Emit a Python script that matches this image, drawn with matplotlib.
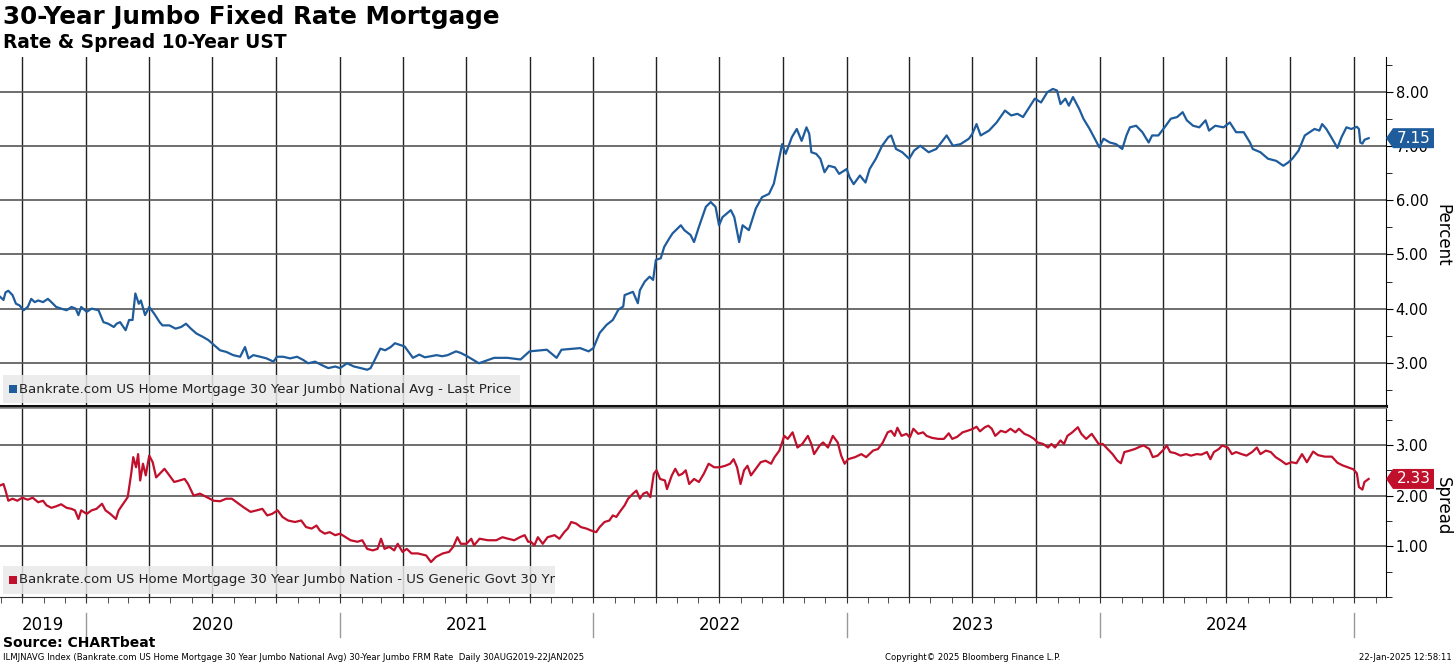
import pandas as pd
import matplotlib
matplotlib.use('Agg')
import matplotlib.pyplot as plt
import matplotlib.dates as mdates
from matplotlib.patches import Rectangle, Polygon
from matplotlib.transforms import blended_transform_factory, IdentityTransform
from matplotlib.lines import Line2D

# 30y jumbo rate (percent)
rate_dates = [
    '2019-08-30', '2019-09-04', '2019-09-07', '2019-09-11', '2019-09-17', '2019-09-22', '2019-09-27',
    '2019-10-03', '2019-10-09', '2019-10-14', '2019-10-19', '2019-10-24', '2019-10-31', '2019-11-07',
    '2019-11-12', '2019-11-19', '2019-11-26', '2019-12-04', '2019-12-11', '2019-12-17', '2019-12-21',
    '2019-12-25', '2020-01-02', '2020-01-09', '2020-01-19', '2020-01-26', '2020-02-02', '2020-02-10',
    '2020-02-14', '2020-02-19', '2020-02-27', '2020-03-03', '2020-03-08', '2020-03-12', '2020-03-17',
    '2020-03-20', '2020-03-26', '2020-04-01', '2020-04-08', '2020-04-16', '2020-04-20', '2020-04-30',
    '2020-05-09', '2020-05-17', '2020-05-24', '2020-05-31', '2020-06-08', '2020-06-17', '2020-06-25',
    '2020-07-03', '2020-07-12', '2020-07-21', '2020-07-31', '2020-08-10', '2020-08-17', '2020-08-22',
    '2020-08-29', '2020-09-08', '2020-09-17', '2020-09-27', '2020-10-02', '2020-10-11', '2020-10-21',
    '2020-10-31', '2020-11-09', '2020-11-16', '2020-11-26', '2020-12-05', '2020-12-15', '2020-12-25',
    '2021-01-01', '2021-01-11', '2021-01-21', '2021-01-31', '2021-02-09', '2021-02-14', '2021-02-21',
    '2021-02-28', '2021-03-07', '2021-03-15', '2021-03-21', '2021-04-04', '2021-04-16', '2021-04-25',
    '2021-05-03', '2021-05-12', '2021-05-20', '2021-05-28', '2021-06-05', '2021-06-17', '2021-06-24',
    '2021-07-03', '2021-07-20', '2021-08-11', '2021-08-30', '2021-09-18', '2021-10-01', '2021-10-26',
    '2021-11-09', '2021-11-16', '2021-12-13', '2021-12-25', '2022-01-01', '2022-01-10', '2022-01-20',
    '2022-01-29', '2022-02-06', '2022-02-13', '2022-02-15', '2022-02-27', '2022-03-06', '2022-03-09',
    '2022-03-16', '2022-03-23', '2022-03-28', '2022-04-01', '2022-04-08', '2022-04-13', '2022-04-20',
    '2022-04-25', '2022-05-07', '2022-05-12', '2022-05-21', '2022-05-26', '2022-06-02', '2022-06-12',
    '2022-06-19', '2022-06-26', '2022-07-01', '2022-07-06', '2022-07-18', '2022-07-23', '2022-07-30',
    '2022-08-04', '2022-08-13', '2022-08-23', '2022-09-01', '2022-09-11', '2022-09-18', '2022-09-25',
    '2022-09-30', '2022-10-05', '2022-10-14', '2022-10-21', '2022-10-28', '2022-11-04', '2022-11-08',
    '2022-11-11', '2022-11-18', '2022-11-24', '2022-11-30', '2022-12-06', '2022-12-15', '2022-12-21',
    '2023-01-01', '2023-01-05', '2023-01-11', '2023-01-20', '2023-01-28', '2023-02-03', '2023-02-12',
    '2023-02-21', '2023-03-02', '2023-03-06', '2023-03-13', '2023-03-22', '2023-04-01', '2023-04-08',
    '2023-04-17', '2023-04-29', '2023-05-10', '2023-05-25', '2023-06-03', '2023-06-14', '2023-06-26',
    '2023-07-01', '2023-07-07', '2023-07-13', '2023-07-25', '2023-08-05', '2023-08-17', '2023-08-26',
    '2023-09-04', '2023-09-12', '2023-09-21', '2023-09-29', '2023-10-08', '2023-10-17', '2023-10-25',
    '2023-10-31', '2023-11-05', '2023-11-12', '2023-11-17', '2023-11-23', '2023-12-02', '2023-12-08',
    '2023-12-17', '2023-12-26', '2023-12-31', '2024-01-06', '2024-01-15', '2024-01-24', '2024-02-02',
    '2024-02-08', '2024-02-13', '2024-02-22', '2024-03-02', '2024-03-11', '2024-03-16', '2024-03-25',
    '2024-04-03', '2024-04-12', '2024-04-21', '2024-04-29', '2024-05-05', '2024-05-14', '2024-05-23',
    '2024-06-01', '2024-06-06', '2024-06-15', '2024-06-27', '2024-07-06', '2024-07-15', '2024-07-26',
    '2024-08-04', '2024-08-08', '2024-08-19', '2024-08-30', '2024-09-11', '2024-09-21', '2024-09-28',
    '2024-10-04', '2024-10-13', '2024-10-22', '2024-10-29', '2024-11-05', '2024-11-12', '2024-11-16',
    '2024-11-22', '2024-11-29', '2024-12-08', '2024-12-14', '2024-12-21', '2024-12-28', '2025-01-05',
    '2025-01-08', '2025-01-10', '2025-01-13', '2025-01-16', '2025-01-22',
]
rate_vals = [
    4.22, 4.16, 4.30, 4.33, 4.25, 4.09, 4.06,
    3.97, 4.03, 4.18, 4.12, 4.15, 4.12, 4.18,
    4.12, 4.03, 4.00, 3.97, 4.03, 4.00, 3.88,
    4.03, 3.94, 4.00, 3.97, 3.75, 3.72, 3.66,
    3.72, 3.75, 3.60, 3.79, 3.79, 4.28, 4.09,
    4.15, 3.88, 4.03, 3.91, 3.75, 3.69, 3.69,
    3.63, 3.66, 3.72, 3.63, 3.54, 3.48, 3.42,
    3.33, 3.23, 3.20, 3.14, 3.11, 3.29, 3.08,
    3.14, 3.11, 3.08, 3.02, 3.11, 3.11, 3.08,
    3.11, 3.05, 2.99, 3.02, 2.96, 2.90, 2.93,
    2.90, 2.99, 2.93, 2.90, 2.87, 2.90, 3.08,
    3.26, 3.23, 3.29, 3.36, 3.30, 3.09, 3.15,
    3.10, 3.12, 3.14, 3.12, 3.14, 3.21, 3.18,
    3.12, 2.99, 3.09, 3.09, 3.06, 3.21, 3.24,
    3.09, 3.24, 3.27, 3.21, 3.27, 3.55, 3.70,
    3.79, 3.98, 4.04, 4.25, 4.31, 4.10, 4.34,
    4.50, 4.59, 4.53, 4.90, 4.93, 5.14, 5.29,
    5.39, 5.54, 5.45, 5.36, 5.23, 5.51, 5.88,
    5.97, 5.88, 5.54, 5.69, 5.82, 5.69, 5.23,
    5.54, 5.45, 5.85, 6.06, 6.12, 6.31, 6.74,
    7.04, 6.86, 7.17, 7.32, 7.10, 7.35, 7.23,
    6.89, 6.86, 6.77, 6.52, 6.64, 6.61, 6.49,
    6.58, 6.43, 6.30, 6.46, 6.33, 6.58, 6.77,
    7.01, 7.17, 7.20, 6.95, 6.89, 6.77, 6.92,
    7.01, 6.89, 6.95, 7.20, 7.01, 7.04, 7.14,
    7.23, 7.41, 7.20, 7.29, 7.44, 7.66, 7.57,
    7.60, 7.54, 7.72, 7.88, 7.81, 8.00, 8.06,
    8.03, 7.78, 7.88, 7.75, 7.91, 7.69, 7.51,
    7.32, 7.10, 6.98, 7.14, 7.07, 7.04, 6.95,
    7.20, 7.35, 7.38, 7.26, 7.07, 7.20, 7.20,
    7.35, 7.51, 7.54, 7.63, 7.48, 7.38, 7.35,
    7.48, 7.29, 7.38, 7.35, 7.44, 7.26, 7.26,
    7.07, 6.95, 6.89, 6.77, 6.73, 6.64, 6.70,
    6.77, 6.92, 7.20, 7.26, 7.32, 7.29, 7.41,
    7.32, 7.17, 6.97, 7.17, 7.35, 7.32, 7.36,
    7.32, 7.07, 7.05, 7.12, 7.15,
]

# spread vs govt (percentage points)
spread_dates = [
    '2019-08-30', '2019-09-04', '2019-09-07', '2019-09-11', '2019-09-17', '2019-09-24', '2019-10-01',
    '2019-10-09', '2019-10-16', '2019-10-24', '2019-10-31', '2019-11-05', '2019-11-12', '2019-11-19',
    '2019-11-26', '2019-12-04', '2019-12-11', '2019-12-16', '2019-12-21', '2019-12-25', '2020-01-02',
    '2020-01-09', '2020-01-16', '2020-01-24', '2020-01-29', '2020-02-05', '2020-02-13', '2020-02-17',
    '2020-02-25', '2020-03-01', '2020-03-06', '2020-03-09', '2020-03-13', '2020-03-16', '2020-03-19',
    '2020-03-23', '2020-03-27', '2020-04-01', '2020-04-06', '2020-04-11', '2020-04-16', '2020-04-23',
    '2020-04-30', '2020-05-07', '2020-05-15', '2020-05-22', '2020-05-27', '2020-06-04', '2020-06-13',
    '2020-06-23', '2020-07-03', '2020-07-12', '2020-07-21', '2020-07-29', '2020-08-05', '2020-08-15',
    '2020-08-25', '2020-09-03', '2020-09-11', '2020-09-18', '2020-09-25', '2020-10-03', '2020-10-10',
    '2020-10-18', '2020-10-28', '2020-11-06', '2020-11-13', '2020-11-21', '2020-11-28', '2020-12-03',
    '2020-12-10', '2020-12-17', '2020-12-25', '2021-01-01', '2021-01-09', '2021-01-16', '2021-01-26',
    '2021-02-02', '2021-02-09', '2021-02-17', '2021-02-24', '2021-03-01', '2021-03-06', '2021-03-13',
    '2021-03-20', '2021-03-25', '2021-04-01', '2021-04-07', '2021-04-14', '2021-04-23', '2021-05-05',
    '2021-05-12', '2021-05-19', '2021-05-29', '2021-06-07', '2021-06-13', '2021-06-19', '2021-06-24',
    '2021-07-02', '2021-07-09', '2021-07-13', '2021-07-21', '2021-08-02', '2021-08-14', '2021-08-23',
    '2021-08-31', '2021-09-09', '2021-09-17', '2021-09-24', '2021-09-29', '2021-10-03', '2021-10-08',
    '2021-10-13', '2021-10-20', '2021-10-27', '2021-11-06', '2021-11-13', '2021-11-20', '2021-11-25',
    '2021-11-30', '2021-12-07', '2021-12-14', '2021-12-22', '2021-12-29', '2022-01-05', '2022-01-10',
    '2022-01-17', '2022-01-24', '2022-01-29', '2022-02-03', '2022-02-08', '2022-02-15', '2022-02-20',
    '2022-02-27', '2022-03-04', '2022-03-09', '2022-03-14', '2022-03-19', '2022-03-24', '2022-03-29',
    '2022-04-02', '2022-04-07', '2022-04-14', '2022-04-17', '2022-04-24', '2022-04-29', '2022-05-04',
    '2022-05-09', '2022-05-14', '2022-05-19', '2022-05-26', '2022-06-02', '2022-06-09', '2022-06-16',
    '2022-06-24', '2022-07-02', '2022-07-10', '2022-07-17', '2022-07-22', '2022-07-27', '2022-08-01',
    '2022-08-06', '2022-08-11', '2022-08-16', '2022-08-23', '2022-08-30', '2022-09-06', '2022-09-14',
    '2022-09-19', '2022-09-26', '2022-10-03', '2022-10-08', '2022-10-15', '2022-10-22', '2022-10-29',
    '2022-11-06', '2022-11-11', '2022-11-15', '2022-11-23', '2022-11-28', '2022-12-05', '2022-12-12',
    '2022-12-19', '2022-12-24', '2022-12-29', '2023-01-03', '2023-01-13', '2023-01-22', '2023-01-29',
    '2023-02-08', '2023-02-15', '2023-02-22', '2023-03-01', '2023-03-06', '2023-03-11', '2023-03-15',
    '2023-03-21', '2023-03-28', '2023-04-02', '2023-04-07', '2023-04-14', '2023-04-21', '2023-04-26',
    '2023-05-04', '2023-05-13', '2023-05-21', '2023-05-28', '2023-06-02', '2023-06-09', '2023-06-17',
    '2023-06-24', '2023-07-02', '2023-07-07', '2023-07-12', '2023-07-19', '2023-07-24', '2023-07-29',
    '2023-08-03', '2023-08-11', '2023-08-18', '2023-08-25', '2023-09-01', '2023-09-06', '2023-09-14',
    '2023-09-21', '2023-09-28', '2023-10-03', '2023-10-11', '2023-10-18', '2023-10-23', '2023-10-28',
    '2023-11-05', '2023-11-10', '2023-11-15', '2023-11-22', '2023-11-30', '2023-12-05', '2023-12-12',
    '2023-12-20', '2023-12-25', '2023-12-30', '2024-01-05', '2024-01-12', '2024-01-19', '2024-01-26',
    '2024-01-31', '2024-02-05', '2024-02-13', '2024-02-20', '2024-02-28', '2024-03-04', '2024-03-12',
    '2024-03-17', '2024-03-24', '2024-04-01', '2024-04-06', '2024-04-11', '2024-04-18', '2024-04-26',
    '2024-05-04', '2024-05-11', '2024-05-19', '2024-05-26', '2024-06-03', '2024-06-08', '2024-06-13',
    '2024-06-20', '2024-06-25', '2024-07-03', '2024-07-09', '2024-07-15', '2024-07-23', '2024-07-30',
    '2024-08-07', '2024-08-14', '2024-08-19', '2024-08-27', '2024-09-03', '2024-09-10', '2024-09-18',
    '2024-09-25', '2024-10-03', '2024-10-10', '2024-10-18', '2024-10-25', '2024-11-03', '2024-11-10',
    '2024-11-20', '2024-11-30', '2024-12-08', '2024-12-15', '2024-12-23', '2024-12-31', '2025-01-05',
    '2025-01-08', '2025-01-13', '2025-01-16', '2025-01-22',
]
spread_vals = [
    2.20, 2.23, 2.10, 1.90, 1.94, 1.90, 1.96,
    1.92, 1.96, 1.87, 1.90, 1.81, 1.76, 1.79,
    1.83, 1.76, 1.74, 1.71, 1.54, 1.71, 1.64,
    1.71, 1.74, 1.84, 1.71, 1.64, 1.54, 1.71,
    1.87, 1.97, 2.43, 2.76, 2.56, 2.82, 2.30,
    2.63, 2.40, 2.79, 2.66, 2.36, 2.43, 2.53,
    2.40, 2.27, 2.30, 2.33, 2.23, 2.00, 2.04,
    1.97, 1.90, 1.89, 1.94, 1.94, 1.87, 1.77,
    1.68, 1.71, 1.74, 1.61, 1.64, 1.71, 1.58,
    1.51, 1.48, 1.51, 1.38, 1.35, 1.41, 1.31,
    1.25, 1.28, 1.22, 1.25, 1.18, 1.12, 1.09,
    1.12, 0.95, 0.92, 0.95, 1.15, 0.95, 0.99,
    0.92, 1.05, 0.89, 0.95, 0.86, 0.86, 0.82,
    0.69, 0.79, 0.86, 0.89, 0.99, 1.18, 1.05,
    1.05, 1.15, 1.02, 1.15, 1.12, 1.12, 1.18,
    1.15, 1.12, 1.18, 1.22, 1.09, 1.09, 1.02,
    1.18, 1.05, 1.18, 1.22, 1.15, 1.28, 1.35,
    1.48, 1.45, 1.38, 1.35, 1.31, 1.28, 1.38,
    1.48, 1.51, 1.61, 1.58, 1.68, 1.81, 1.94,
    2.04, 2.10, 1.94, 2.04, 2.07, 1.97, 2.43,
    2.50, 2.33, 2.30, 2.13, 2.40, 2.53, 2.40,
    2.43, 2.50, 2.23, 2.33, 2.27, 2.43, 2.63,
    2.56, 2.56, 2.59, 2.63, 2.72, 2.56, 2.23,
    2.50, 2.59, 2.40, 2.53, 2.66, 2.69, 2.63,
    2.76, 2.89, 3.18, 3.12, 3.25, 2.95, 3.02,
    3.18, 3.02, 2.82, 2.99, 3.05, 2.95, 3.18,
    3.05, 2.79, 2.63, 2.72, 2.76, 2.82, 2.76,
    2.89, 2.92, 3.05, 3.25, 3.28, 3.18, 3.34,
    3.18, 3.22, 3.15, 3.32, 3.22, 3.25, 3.18,
    3.14, 3.12, 3.12, 3.23, 3.12, 3.16, 3.25,
    3.28, 3.32, 3.36, 3.27, 3.35, 3.38, 3.32,
    3.18, 3.28, 3.25, 3.32, 3.25, 3.32, 3.22,
    3.18, 3.12, 3.05, 3.02, 2.95, 3.02, 2.95,
    3.09, 3.02, 3.18, 3.25, 3.35, 3.22, 3.12,
    3.22, 3.12, 3.02, 3.02, 2.92, 2.82, 2.69,
    2.64, 2.86, 2.89, 2.92, 2.97, 2.99, 2.92,
    2.76, 2.79, 2.90, 2.99, 2.86, 2.84, 2.79,
    2.82, 2.79, 2.82, 2.81, 2.86, 2.72, 2.86,
    2.92, 2.99, 2.95, 2.82, 2.86, 2.82, 2.79,
    2.86, 2.95, 2.82, 2.89, 2.86, 2.76, 2.69,
    2.62, 2.66, 2.64, 2.82, 2.66, 2.87, 2.80,
    2.77, 2.77, 2.65, 2.60, 2.56, 2.52, 2.44,
    2.17, 2.12, 2.27, 2.33,
]

rate_label = 'Bankrate.com US Home Mortgage 30 Year Jumbo National Avg - Last Price'
spread_label = 'Bankrate.com US Home Mortgage 30 Year Jumbo Nation - US Generic Govt 30 Yr'
years = [2019, 2020, 2021, 2022, 2023, 2024]

blue = '#1f5c9c'
red = '#c0102c'

rate_x = pd.to_datetime(rate_dates)
spread_x = pd.to_datetime(spread_dates)
x_start = pd.Timestamp('2019-08-30')
x_end = pd.Timestamp('2025-02-16')

W, H = 1456, 665
fig = plt.figure(figsize=(W / 100, H / 100), dpi=100)
ax1 = fig.add_axes([0, 1 - 406 / H, 1386 / W, 349 / H])
ax2 = fig.add_axes([0, 1 - 597 / H, 1386 / W, 189 / H])

ax1.plot(rate_x, rate_vals, color=blue, lw=1.6, zorder=3)
ax2.plot(spread_x, spread_vals, color=red, lw=1.6, zorder=3)

ax1.set_ylim(2.2, 8.65)
ax2.set_ylim(0, 3.73)

quarters = pd.date_range('2019-10-01', '2025-01-01', freq='QS')
months = pd.date_range('2019-09-01', '2025-02-01', freq='MS')
for ax in (ax1, ax2):
    ax.set_xlim(x_start, x_end)
    ax.set_xticks(quarters)
    ax.set_xticks(months, minor=True)
    ax.xaxis.set_major_formatter(plt.NullFormatter())
    ax.yaxis.tick_right()
    ax.yaxis.set_major_formatter(matplotlib.ticker.FormatStrFormatter('%.2f'))
    ax.tick_params(axis='y', which='both', direction='out', colors='black', labelsize=10.5, pad=2)
    ax.tick_params(axis='y', which='major', length=5)
    ax.tick_params(axis='y', which='minor', length=4)
    ax.grid(True, which='major', axis='x', color='#222222', lw=1.0)
    ax.grid(True, which='major', axis='y', color='#555555', lw=1.2)
    ax.set_axisbelow(True)
    ax.spines['left'].set_visible(False)
    ax.spines['top'].set_visible(False)
    ax.spines['right'].set_color('black')

ax1.set_yticks([3, 4, 5, 6, 7, 8])
ax1.set_yticks([2.5, 3.5, 4.5, 5.5, 6.5, 7.5, 8.5], minor=True)
ax1.tick_params(axis='x', which='both', length=0)
ax1.spines['bottom'].set_color('#111111')
ax1.spines['bottom'].set_linewidth(2.2)

ax2.set_yticks([1, 2, 3])
ax2.set_yticks([0, 0.5, 1.5, 2.5, 3.5], minor=True)
ax2.tick_params(axis='x', which='both', direction='out', length=4, color='#333333')
ax2.spines['bottom'].set_color('#333333')
ax2.spines['top'].set_visible(True)
ax2.spines['top'].set_color('#888888')
ax2.spines['top'].set_linewidth(1.2)

ax1.text(1.041, 0.49, 'Percent', transform=ax1.transAxes, rotation=270, fontsize=12,
         ha='center', va='center')
ax2.text(1.041, 0.48, 'Spread', transform=ax2.transAxes, rotation=270, fontsize=12,
         ha='center', va='center')

# legend boxes
def legend_box(ax, h_px, box_w, box_h, label, color):
    aw, ah = 1386, h_px
    ax.add_patch(Rectangle((3 / aw, 3 / ah), box_w / aw, box_h / ah, transform=ax.transAxes,
                           facecolor='#e9e9e9', edgecolor='none', alpha=0.85, zorder=1))
    yc = (3 + box_h / 2) / ah
    ax.add_patch(Rectangle((9 / aw, yc - 4 / ah), 8 / aw, 8 / ah, transform=ax.transAxes,
                           facecolor=color, edgecolor='none', zorder=4))
    ax.text(19 / aw, yc, label, transform=ax.transAxes, fontsize=9.5, ha='left', va='center',
            color='#222222', zorder=4)

legend_box(ax1, 349, 517, 28, rate_label, blue)
legend_box(ax2, 189, 552, 28, spread_label, red)

# year labels and separators under the lower panel
trans = blended_transform_factory(ax2.transData, ax2.transAxes)
for yr in years:
    a = max(pd.Timestamp(f'{yr}-01-01'), x_start)
    b = min(pd.Timestamp(f'{yr + 1}-01-01'), x_end)
    mid = a + (b - a) / 2
    ax2.text(mid, -0.148, str(yr), transform=trans, fontsize=12, ha='center', va='center')
    sep = mdates.date2num(pd.Timestamp(f'{yr + 1}-01-01'))
    ax2.add_line(Line2D([sep, sep], [-0.085, -0.212], transform=trans, color='#999999',
                        lw=1, clip_on=False))

# last value tags, drawn over the right axis labels like the terminal tags
def value_tag(ax, value, color):
    x0 = ax.transAxes.transform((1, 0))[0]
    y0 = ax.transData.transform((0, value))[1]
    pts = [(x0, y0), (x0 + 7, y0 + 10), (x0 + 48, y0 + 10), (x0 + 48, y0 - 10), (x0 + 7, y0 - 10)]
    fig.add_artist(Polygon(pts, closed=True, transform=IdentityTransform(), facecolor=color,
                           edgecolor='none', zorder=10))
    fig.text((x0 + 28) / W, y0 / H, f'{value:.2f}', color='white', fontsize=11,
             ha='center', va='center', zorder=11)

value_tag(ax1, rate_vals[-1], blue)
value_tag(ax2, spread_vals[-1], red)

fig.text(3 / W, 1 - 17 / H, '30-Year Jumbo Fixed Rate Mortgage', fontsize=17.7, weight='bold',
         ha='left', va='center')
fig.text(3 / W, 1 - 43 / H, 'Rate & Spread 10-Year UST', fontsize=13.4, weight='bold',
         ha='left', va='center')
fig.text(3 / W, 1 - 643 / H, 'Source: CHARTbeat', fontsize=10, weight='bold',
         ha='left', va='center')
fig.text(3 / W, 1 - 658 / H,
         'ILMJNAVG Index (Bankrate.com US Home Mortgage 30 Year Jumbo National Avg) '
         '30-Year Jumbo FRM Rate  Daily 30AUG2019-22JAN2025',
         fontsize=6.1, ha='left', va='center')
fig.text(885 / W, 1 - 658 / H, 'Copyright\u00a9 2025 Bloomberg Finance L.P.', fontsize=6.1,
         ha='left', va='center')
fig.text(1452 / W, 1 - 658 / H, '22-Jan-2025 12:58:11', fontsize=6.1, ha='right', va='center')

fig.savefig('out.png', dpi=100)
